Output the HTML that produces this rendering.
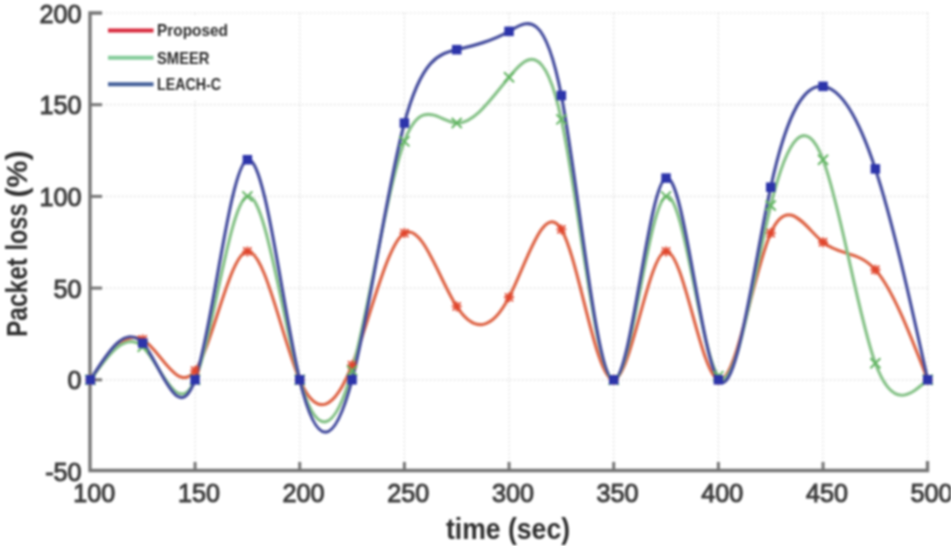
<!DOCTYPE html>
<html><head><meta charset="utf-8"><style>
html,body{margin:0;padding:0;background:#fff;width:951px;height:546px;overflow:hidden}
svg{display:block;filter:blur(0.8px)}
</style></head><body>
<svg width="951" height="546" viewBox="0 0 951 546">
<line x1="195.06" y1="13" x2="195.06" y2="470.5" stroke="#d6d6d6" stroke-width="1.2" stroke-dasharray="1.5 2.5"/>
<line x1="299.73" y1="13" x2="299.73" y2="470.5" stroke="#d6d6d6" stroke-width="1.2" stroke-dasharray="1.5 2.5"/>
<line x1="404.39" y1="13" x2="404.39" y2="470.5" stroke="#d6d6d6" stroke-width="1.2" stroke-dasharray="1.5 2.5"/>
<line x1="509.05" y1="13" x2="509.05" y2="470.5" stroke="#d6d6d6" stroke-width="1.2" stroke-dasharray="1.5 2.5"/>
<line x1="613.71" y1="13" x2="613.71" y2="470.5" stroke="#d6d6d6" stroke-width="1.2" stroke-dasharray="1.5 2.5"/>
<line x1="718.38" y1="13" x2="718.38" y2="470.5" stroke="#d6d6d6" stroke-width="1.2" stroke-dasharray="1.5 2.5"/>
<line x1="823.04" y1="13" x2="823.04" y2="470.5" stroke="#d6d6d6" stroke-width="1.2" stroke-dasharray="1.5 2.5"/>
<line x1="927.70" y1="13" x2="927.70" y2="470.5" stroke="#d6d6d6" stroke-width="1.2" stroke-dasharray="1.5 2.5"/>
<line x1="90" y1="379.80" x2="927.5" y2="379.80" stroke="#d6d6d6" stroke-width="1.2" stroke-dasharray="1.5 2.5"/>
<line x1="90" y1="288.10" x2="927.5" y2="288.10" stroke="#d6d6d6" stroke-width="1.2" stroke-dasharray="1.5 2.5"/>
<line x1="90" y1="196.40" x2="927.5" y2="196.40" stroke="#d6d6d6" stroke-width="1.2" stroke-dasharray="1.5 2.5"/>
<line x1="90" y1="104.70" x2="927.5" y2="104.70" stroke="#d6d6d6" stroke-width="1.2" stroke-dasharray="1.5 2.5"/>
<line x1="90" y1="13.00" x2="927.5" y2="13.00" stroke="#d6d6d6" stroke-width="1.2" stroke-dasharray="1.5 2.5"/>
<rect x="93" y="17" width="150" height="83" fill="#fff"/>
<path d="M102,13 H90 V470.5 H927.5 V461" fill="none" stroke="#747474" stroke-width="3.3"/>
<line x1="195.06" y1="470.5" x2="195.06" y2="462" stroke="#747474" stroke-width="3"/>
<line x1="299.73" y1="470.5" x2="299.73" y2="462" stroke="#747474" stroke-width="3"/>
<line x1="404.39" y1="470.5" x2="404.39" y2="462" stroke="#747474" stroke-width="3"/>
<line x1="509.05" y1="470.5" x2="509.05" y2="462" stroke="#747474" stroke-width="3"/>
<line x1="613.71" y1="470.5" x2="613.71" y2="462" stroke="#747474" stroke-width="3"/>
<line x1="718.38" y1="470.5" x2="718.38" y2="462" stroke="#747474" stroke-width="3"/>
<line x1="823.04" y1="470.5" x2="823.04" y2="462" stroke="#747474" stroke-width="3"/>
<line x1="90" y1="379.80" x2="102" y2="379.80" stroke="#747474" stroke-width="3"/>
<line x1="90" y1="288.10" x2="102" y2="288.10" stroke="#747474" stroke-width="3"/>
<line x1="90" y1="196.40" x2="102" y2="196.40" stroke="#747474" stroke-width="3"/>
<line x1="90" y1="104.70" x2="102" y2="104.70" stroke="#747474" stroke-width="3"/>
<path d="M90.40,379.80C107.84,354.61 125.29,329.42 142.73,339.45C160.18,349.48 177.62,394.73 195.06,370.63C212.51,346.53 229.95,253.06 247.39,251.42C264.84,249.78 282.28,339.95 299.73,379.80C317.17,419.65 334.61,409.17 352.06,365.13C369.50,321.09 386.94,243.49 404.39,233.08C421.83,222.67 439.27,279.45 456.72,306.44C474.16,333.43 491.61,330.62 509.05,297.27C526.49,263.92 543.94,200.04 561.38,229.41C578.83,258.78 596.27,381.40 613.71,379.80C631.16,378.20 648.60,252.39 666.04,251.42C683.49,250.45 700.93,374.32 718.38,379.80C735.82,385.28 753.26,272.36 770.71,233.08C788.15,193.80 805.59,228.15 823.04,242.25C840.48,256.35 857.93,250.21 875.37,269.76C892.81,289.31 910.26,334.56 927.70,379.80" fill="none" stroke="#de6648" stroke-width="3.2" stroke-linejoin="round"/>
<path d="M90.40,379.80C107.84,355.16 125.29,330.53 142.73,346.79C160.18,363.05 177.62,420.20 195.06,379.80C212.51,339.40 229.95,201.45 247.39,196.40C264.84,191.35 282.28,319.18 299.73,379.80C317.17,440.42 334.61,433.81 352.06,370.63C369.50,307.45 386.94,187.70 404.39,141.38C421.83,95.06 439.27,122.17 456.72,123.04C474.16,123.91 491.61,98.53 509.05,77.19C526.49,55.85 543.94,38.55 561.38,119.37C578.83,200.19 596.27,379.12 613.71,379.80C631.16,380.48 648.60,202.89 666.04,196.40C683.49,189.91 700.93,354.51 718.38,376.13C735.82,397.75 753.26,276.39 770.71,205.57C788.15,134.75 805.59,114.48 823.04,159.72C840.48,204.96 857.93,315.70 875.37,363.29C892.81,410.89 910.26,395.35 927.70,379.80" fill="none" stroke="#86c288" stroke-width="3.2" stroke-linejoin="round"/>
<path d="M90.40,379.80C107.84,351.81 125.29,323.83 142.73,343.12C160.18,362.41 177.62,428.98 195.06,379.80C212.51,330.62 229.95,165.69 247.39,159.72C264.84,153.75 282.28,306.73 299.73,379.80C317.17,452.87 334.61,446.03 352.06,379.80C369.50,313.57 386.94,187.96 404.39,123.04C421.83,58.12 439.27,53.90 456.72,49.68C474.16,45.46 491.61,41.24 509.05,31.34C526.49,21.44 543.94,5.86 561.38,95.53C578.83,185.20 596.27,380.12 613.71,379.80C631.16,379.48 648.60,183.91 666.04,178.06C683.49,172.21 700.93,356.09 718.38,379.80C735.82,403.51 753.26,267.04 770.71,187.23C788.15,107.42 805.59,84.27 823.04,86.36C840.48,88.45 857.93,115.78 875.37,168.89C892.81,222.00 910.26,300.90 927.70,379.80" fill="none" stroke="#464e9e" stroke-width="3.2" stroke-linejoin="round"/>
<path d="M85.40,379.80L95.40,379.80M90.40,374.80L90.40,384.80M86.40,375.80L94.40,383.80M94.40,375.80L86.40,383.80" stroke="#e0452c" stroke-width="1.8"/>
<path d="M137.73,339.45L147.73,339.45M142.73,334.45L142.73,344.45M138.73,335.45L146.73,343.45M146.73,335.45L138.73,343.45" stroke="#e0452c" stroke-width="1.8"/>
<path d="M190.06,370.63L200.06,370.63M195.06,365.63L195.06,375.63M191.06,366.63L199.06,374.63M199.06,366.63L191.06,374.63" stroke="#e0452c" stroke-width="1.8"/>
<path d="M242.39,251.42L252.39,251.42M247.39,246.42L247.39,256.42M243.39,247.42L251.39,255.42M251.39,247.42L243.39,255.42" stroke="#e0452c" stroke-width="1.8"/>
<path d="M294.73,379.80L304.73,379.80M299.73,374.80L299.73,384.80M295.73,375.80L303.73,383.80M303.73,375.80L295.73,383.80" stroke="#e0452c" stroke-width="1.8"/>
<path d="M347.06,365.13L357.06,365.13M352.06,360.13L352.06,370.13M348.06,361.13L356.06,369.13M356.06,361.13L348.06,369.13" stroke="#e0452c" stroke-width="1.8"/>
<path d="M399.39,233.08L409.39,233.08M404.39,228.08L404.39,238.08M400.39,229.08L408.39,237.08M408.39,229.08L400.39,237.08" stroke="#e0452c" stroke-width="1.8"/>
<path d="M451.72,306.44L461.72,306.44M456.72,301.44L456.72,311.44M452.72,302.44L460.72,310.44M460.72,302.44L452.72,310.44" stroke="#e0452c" stroke-width="1.8"/>
<path d="M504.05,297.27L514.05,297.27M509.05,292.27L509.05,302.27M505.05,293.27L513.05,301.27M513.05,293.27L505.05,301.27" stroke="#e0452c" stroke-width="1.8"/>
<path d="M556.38,229.41L566.38,229.41M561.38,224.41L561.38,234.41M557.38,225.41L565.38,233.41M565.38,225.41L557.38,233.41" stroke="#e0452c" stroke-width="1.8"/>
<path d="M608.71,379.80L618.71,379.80M613.71,374.80L613.71,384.80M609.71,375.80L617.71,383.80M617.71,375.80L609.71,383.80" stroke="#e0452c" stroke-width="1.8"/>
<path d="M661.04,251.42L671.04,251.42M666.04,246.42L666.04,256.42M662.04,247.42L670.04,255.42M670.04,247.42L662.04,255.42" stroke="#e0452c" stroke-width="1.8"/>
<path d="M713.38,379.80L723.38,379.80M718.38,374.80L718.38,384.80M714.38,375.80L722.38,383.80M722.38,375.80L714.38,383.80" stroke="#e0452c" stroke-width="1.8"/>
<path d="M765.71,233.08L775.71,233.08M770.71,228.08L770.71,238.08M766.71,229.08L774.71,237.08M774.71,229.08L766.71,237.08" stroke="#e0452c" stroke-width="1.8"/>
<path d="M818.04,242.25L828.04,242.25M823.04,237.25L823.04,247.25M819.04,238.25L827.04,246.25M827.04,238.25L819.04,246.25" stroke="#e0452c" stroke-width="1.8"/>
<path d="M870.37,269.76L880.37,269.76M875.37,264.76L875.37,274.76M871.37,265.76L879.37,273.76M879.37,265.76L871.37,273.76" stroke="#e0452c" stroke-width="1.8"/>
<path d="M922.70,379.80L932.70,379.80M927.70,374.80L927.70,384.80M923.70,375.80L931.70,383.80M931.70,375.80L923.70,383.80" stroke="#e0452c" stroke-width="1.8"/>
<path d="M85.40,374.80L95.40,384.80M95.40,374.80L85.40,384.80" stroke="#62b562" stroke-width="2"/>
<path d="M137.73,341.79L147.73,351.79M147.73,341.79L137.73,351.79" stroke="#62b562" stroke-width="2"/>
<path d="M190.06,374.80L200.06,384.80M200.06,374.80L190.06,384.80" stroke="#62b562" stroke-width="2"/>
<path d="M242.39,191.40L252.39,201.40M252.39,191.40L242.39,201.40" stroke="#62b562" stroke-width="2"/>
<path d="M294.73,374.80L304.73,384.80M304.73,374.80L294.73,384.80" stroke="#62b562" stroke-width="2"/>
<path d="M347.06,365.63L357.06,375.63M357.06,365.63L347.06,375.63" stroke="#62b562" stroke-width="2"/>
<path d="M399.39,136.38L409.39,146.38M409.39,136.38L399.39,146.38" stroke="#62b562" stroke-width="2"/>
<path d="M451.72,118.04L461.72,128.04M461.72,118.04L451.72,128.04" stroke="#62b562" stroke-width="2"/>
<path d="M504.05,72.19L514.05,82.19M514.05,72.19L504.05,82.19" stroke="#62b562" stroke-width="2"/>
<path d="M556.38,114.37L566.38,124.37M566.38,114.37L556.38,124.37" stroke="#62b562" stroke-width="2"/>
<path d="M608.71,374.80L618.71,384.80M618.71,374.80L608.71,384.80" stroke="#62b562" stroke-width="2"/>
<path d="M661.04,191.40L671.04,201.40M671.04,191.40L661.04,201.40" stroke="#62b562" stroke-width="2"/>
<path d="M713.38,371.13L723.38,381.13M723.38,371.13L713.38,381.13" stroke="#62b562" stroke-width="2"/>
<path d="M765.71,200.57L775.71,210.57M775.71,200.57L765.71,210.57" stroke="#62b562" stroke-width="2"/>
<path d="M818.04,154.72L828.04,164.72M828.04,154.72L818.04,164.72" stroke="#62b562" stroke-width="2"/>
<path d="M870.37,358.29L880.37,368.29M880.37,358.29L870.37,368.29" stroke="#62b562" stroke-width="2"/>
<path d="M922.70,374.80L932.70,384.80M932.70,374.80L922.70,384.80" stroke="#62b562" stroke-width="2"/>
<rect x="85.65" y="375.05" width="9.5" height="9.5" fill="#2c34aa"/>
<rect x="137.98" y="338.37" width="9.5" height="9.5" fill="#2c34aa"/>
<rect x="190.31" y="375.05" width="9.5" height="9.5" fill="#2c34aa"/>
<rect x="242.64" y="154.97" width="9.5" height="9.5" fill="#2c34aa"/>
<rect x="294.98" y="375.05" width="9.5" height="9.5" fill="#2c34aa"/>
<rect x="347.31" y="375.05" width="9.5" height="9.5" fill="#2c34aa"/>
<rect x="399.64" y="118.29" width="9.5" height="9.5" fill="#2c34aa"/>
<rect x="451.97" y="44.93" width="9.5" height="9.5" fill="#2c34aa"/>
<rect x="504.30" y="26.59" width="9.5" height="9.5" fill="#2c34aa"/>
<rect x="556.63" y="90.78" width="9.5" height="9.5" fill="#2c34aa"/>
<rect x="608.96" y="375.05" width="9.5" height="9.5" fill="#2c34aa"/>
<rect x="661.29" y="173.31" width="9.5" height="9.5" fill="#2c34aa"/>
<rect x="713.63" y="375.05" width="9.5" height="9.5" fill="#2c34aa"/>
<rect x="765.96" y="182.48" width="9.5" height="9.5" fill="#2c34aa"/>
<rect x="818.29" y="81.61" width="9.5" height="9.5" fill="#2c34aa"/>
<rect x="870.62" y="164.14" width="9.5" height="9.5" fill="#2c34aa"/>
<rect x="922.95" y="375.05" width="9.5" height="9.5" fill="#2c34aa"/>
<text x="81.6" y="481.00" text-anchor="end" font-family="Liberation Sans, sans-serif" font-size="26" fill="#3a3a3a" stroke="#3c3c3c" stroke-width="1.0" textLength="36.44" lengthAdjust="spacingAndGlyphs">-50</text>
<text x="81.6" y="389.30" text-anchor="end" font-family="Liberation Sans, sans-serif" font-size="26" fill="#3a3a3a" stroke="#3c3c3c" stroke-width="1.0" textLength="14.02" lengthAdjust="spacingAndGlyphs">0</text>
<text x="81.6" y="297.60" text-anchor="end" font-family="Liberation Sans, sans-serif" font-size="26" fill="#3a3a3a" stroke="#3c3c3c" stroke-width="1.0" textLength="28.04" lengthAdjust="spacingAndGlyphs">50</text>
<text x="81.6" y="205.90" text-anchor="end" font-family="Liberation Sans, sans-serif" font-size="26" fill="#3a3a3a" stroke="#3c3c3c" stroke-width="1.0" textLength="42.07" lengthAdjust="spacingAndGlyphs">100</text>
<text x="81.6" y="114.20" text-anchor="end" font-family="Liberation Sans, sans-serif" font-size="26" fill="#3a3a3a" stroke="#3c3c3c" stroke-width="1.0" textLength="42.07" lengthAdjust="spacingAndGlyphs">150</text>
<text x="81.6" y="22.50" text-anchor="end" font-family="Liberation Sans, sans-serif" font-size="26" fill="#3a3a3a" stroke="#3c3c3c" stroke-width="1.0" textLength="42.07" lengthAdjust="spacingAndGlyphs">200</text>
<text x="94.30" y="501.8" text-anchor="middle" font-family="Liberation Sans, sans-serif" font-size="26" fill="#3a3a3a" stroke="#3c3c3c" stroke-width="1.0" textLength="42.07" lengthAdjust="spacingAndGlyphs">100</text>
<text x="198.96" y="501.8" text-anchor="middle" font-family="Liberation Sans, sans-serif" font-size="26" fill="#3a3a3a" stroke="#3c3c3c" stroke-width="1.0" textLength="42.07" lengthAdjust="spacingAndGlyphs">150</text>
<text x="303.62" y="501.8" text-anchor="middle" font-family="Liberation Sans, sans-serif" font-size="26" fill="#3a3a3a" stroke="#3c3c3c" stroke-width="1.0" textLength="42.07" lengthAdjust="spacingAndGlyphs">200</text>
<text x="408.29" y="501.8" text-anchor="middle" font-family="Liberation Sans, sans-serif" font-size="26" fill="#3a3a3a" stroke="#3c3c3c" stroke-width="1.0" textLength="42.07" lengthAdjust="spacingAndGlyphs">250</text>
<text x="512.95" y="501.8" text-anchor="middle" font-family="Liberation Sans, sans-serif" font-size="26" fill="#3a3a3a" stroke="#3c3c3c" stroke-width="1.0" textLength="42.07" lengthAdjust="spacingAndGlyphs">300</text>
<text x="617.61" y="501.8" text-anchor="middle" font-family="Liberation Sans, sans-serif" font-size="26" fill="#3a3a3a" stroke="#3c3c3c" stroke-width="1.0" textLength="42.07" lengthAdjust="spacingAndGlyphs">350</text>
<text x="722.28" y="501.8" text-anchor="middle" font-family="Liberation Sans, sans-serif" font-size="26" fill="#3a3a3a" stroke="#3c3c3c" stroke-width="1.0" textLength="42.07" lengthAdjust="spacingAndGlyphs">400</text>
<text x="826.94" y="501.8" text-anchor="middle" font-family="Liberation Sans, sans-serif" font-size="26" fill="#3a3a3a" stroke="#3c3c3c" stroke-width="1.0" textLength="42.07" lengthAdjust="spacingAndGlyphs">450</text>
<text x="931.60" y="501.8" text-anchor="middle" font-family="Liberation Sans, sans-serif" font-size="26" fill="#3a3a3a" stroke="#3c3c3c" stroke-width="1.0" textLength="42.07" lengthAdjust="spacingAndGlyphs">500</text>
<text x="446" y="539" font-family="Liberation Sans, sans-serif" font-size="30" font-weight="bold" fill="#2e2e2e" textLength="124" lengthAdjust="spacingAndGlyphs">time (sec)</text>
<text transform="translate(27,335) rotate(-90)" x="-2" y="0" font-family="Liberation Sans, sans-serif" font-size="30" font-weight="bold" fill="#2e2e2e" textLength="79" lengthAdjust="spacingAndGlyphs">Packet</text>
<text transform="translate(27,335) rotate(-90)" x="84.5" y="0" font-family="Liberation Sans, sans-serif" font-size="30" font-weight="bold" fill="#2e2e2e" textLength="47" lengthAdjust="spacingAndGlyphs">loss</text>
<text transform="translate(27,335) rotate(-90)" x="137.5" y="0" font-family="Liberation Sans, sans-serif" font-size="30" font-weight="bold" fill="#2e2e2e" textLength="47" lengthAdjust="spacingAndGlyphs">(%)</text>
<line x1="108" y1="30.6" x2="153.5" y2="30.6" stroke="#d8283c" stroke-width="4"/>
<text x="157" y="36.40" font-family="Liberation Sans, sans-serif" font-size="16.5" font-weight="bold" fill="#2a2a2a" textLength="71" lengthAdjust="spacingAndGlyphs">Proposed</text>
<line x1="108" y1="57.8" x2="153.5" y2="57.8" stroke="#84cc9a" stroke-width="4"/>
<text x="157" y="63.60" font-family="Liberation Sans, sans-serif" font-size="16.5" font-weight="bold" fill="#2a2a2a" textLength="52.5" lengthAdjust="spacingAndGlyphs">SMEER</text>
<line x1="108" y1="84.2" x2="153.5" y2="84.2" stroke="#44609a" stroke-width="4"/>
<text x="157" y="90.00" font-family="Liberation Sans, sans-serif" font-size="16.5" font-weight="bold" fill="#2a2a2a" textLength="64" lengthAdjust="spacingAndGlyphs">LEACH-C</text>
</svg>
</body></html>
